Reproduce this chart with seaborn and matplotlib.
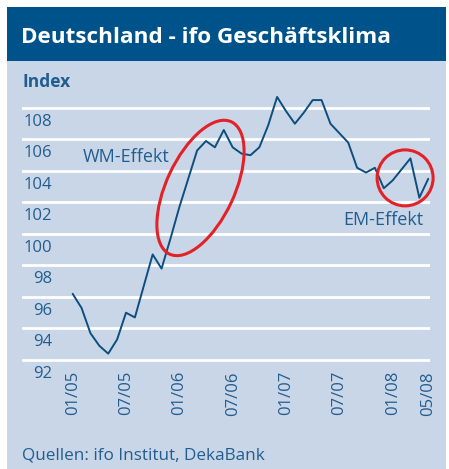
import numpy as np
import pandas as pd
import matplotlib
matplotlib.use("Agg")
import matplotlib.pyplot as plt
import seaborn as sns
from matplotlib.patches import Ellipse, Rectangle
from matplotlib.transforms import ScaledTranslation

# ifo Geschaeftsklima, monthly, Jan 2005 - May 2008
months = pd.period_range("2005-01", "2008-05", freq="M")
ifo_values = [96.2, 95.3, 93.7, 92.9, 92.4, 93.3, 95.0, 94.7, 96.7, 98.7, 97.8, 99.7,
              101.7, 103.5, 105.3, 105.9, 105.5, 106.6, 105.5, 105.1, 105.0, 105.5, 106.9, 108.7,
              107.8, 107.0, 107.7, 108.5, 108.5, 107.0, 106.4, 105.8, 104.2, 103.9, 104.2, 102.9,
              103.4, 104.1, 104.8, 102.3, 103.5]
tick_months = ["2005-01", "2005-07", "2006-01", "2006-07", "2007-01", "2007-07", "2008-01", "2008-05"]
y_ticks = [92, 94, 96, 98, 100, 102, 104, 106, 108]

# colours
DARK_BLUE = "#00528A"
PANEL = "#C9D6E7"
TEXT_BLUE = "#225D90"
LINE_BLUE = "#0D4E7E"
RED = "#E32228"

W, H = 449, 469


def px(x, y):
    # pixel position (from top-left) -> figure fraction
    return x / W, 1 - y / H


def build_frame():
    df = pd.DataFrame({"month": months.strftime("%Y-%m"), "value": ifo_values})
    df["idx"] = np.arange(len(df))
    return df


def main():
    df = build_frame()
    sns.set_theme(style="white")
    plt.rcParams["font.family"] = ["Open Sans", "DejaVu Sans"]

    fig = plt.figure(figsize=(W / 100, H / 100), dpi=100)
    fig.patch.set_facecolor("white")

    # panel background and title bar
    fig.patches.append(Rectangle(px(7, 469), 439 / W, 462 / H, transform=fig.transFigure,
                                 facecolor=PANEL, edgecolor="none", zorder=-10))
    fig.patches.append(Rectangle(px(7, 60.7), 439 / W, 53.7 / H, transform=fig.transFigure,
                                 facecolor=DARK_BLUE, edgecolor="none", zorder=-10))

    fig.text(*px(21, 43.3), "Deutschland - ifo Geschäftsklima", color="white",
             fontsize=16.2, fontweight="bold", va="baseline", ha="left")
    fig.text(*px(22, 87), "Index", color=TEXT_BLUE, fontsize=12.5, fontweight="bold",
             va="baseline", ha="left")
    fig.text(*px(22, 459), "Quellen: ifo Institut, DekaBank", color=TEXT_BLUE,
             fontsize=12.3, va="baseline", ha="left")

    left, right, top, bottom = 22, 430, 90, 362
    ax = fig.add_axes([left / W, 1 - bottom / H, (right - left) / W, (bottom - top) / H])
    ax.set_facecolor("none")

    sns.lineplot(data=df, x="idx", y="value", ax=ax, color=LINE_BLUE, linewidth=1.4, zorder=3)

    ax.set_xlim(-5.7, 40.2)
    ax.set_ylim(91.87, 109.14)
    ax.set_xlabel("")
    ax.set_ylabel("")
    for s in ax.spines.values():
        s.set_visible(False)

    ax.set_yticks(y_ticks)
    ax.set_yticklabels([str(v) for v in y_ticks])
    ax.grid(axis="y", color="white", linewidth=2)
    ax.grid(axis="x", visible=False)
    ax.set_axisbelow(True)

    month_list = list(df["month"])
    tick_idx = [month_list.index(m) for m in tick_months]
    tick_lbl = [pd.Period(m).strftime("%m/%y") for m in tick_months]
    ax.set_xticks(tick_idx)
    ax.set_xticklabels(tick_lbl, rotation=90, va="top", ha="center")

    ax.tick_params(axis="both", length=0, labelsize=12, labelcolor=TEXT_BLUE)
    ax.tick_params(axis="x", pad=6.5)
    ax.tick_params(axis="y", pad=0)

    # y labels sit right of the axes edge, below their gridline
    shift = ScaledTranslation(30 / 100, -12 / 100, fig.dpi_scale_trans)
    for lab in ax.get_yticklabels():
        lab.set_transform(lab.get_transform() + shift)

    # annotations
    ax.text(1.16, 104.9, "WM-Effekt", color=TEXT_BLUE, fontsize=13, va="center", ha="left")
    ax.text(30.4, 100.9, "EM-Effekt", color=TEXT_BLUE, fontsize=13, va="center", ha="left")

    wm = Ellipse((0, 0), width=1.46, height=0.68, angle=65, fill=False, edgecolor=RED,
                 linewidth=2.2, clip_on=False, zorder=4,
                 transform=fig.dpi_scale_trans + ScaledTranslation(14.38, 102.92, ax.transData))
    em = Ellipse((0, 0), width=0.56, height=0.56, fill=False, edgecolor=RED,
                 linewidth=2.2, clip_on=False, zorder=4,
                 transform=fig.dpi_scale_trans + ScaledTranslation(37.4, 103.56, ax.transData))
    ax.add_patch(wm)
    ax.add_patch(em)

    fig.savefig("out.png", dpi=100)


if __name__ == "__main__":
    main()
